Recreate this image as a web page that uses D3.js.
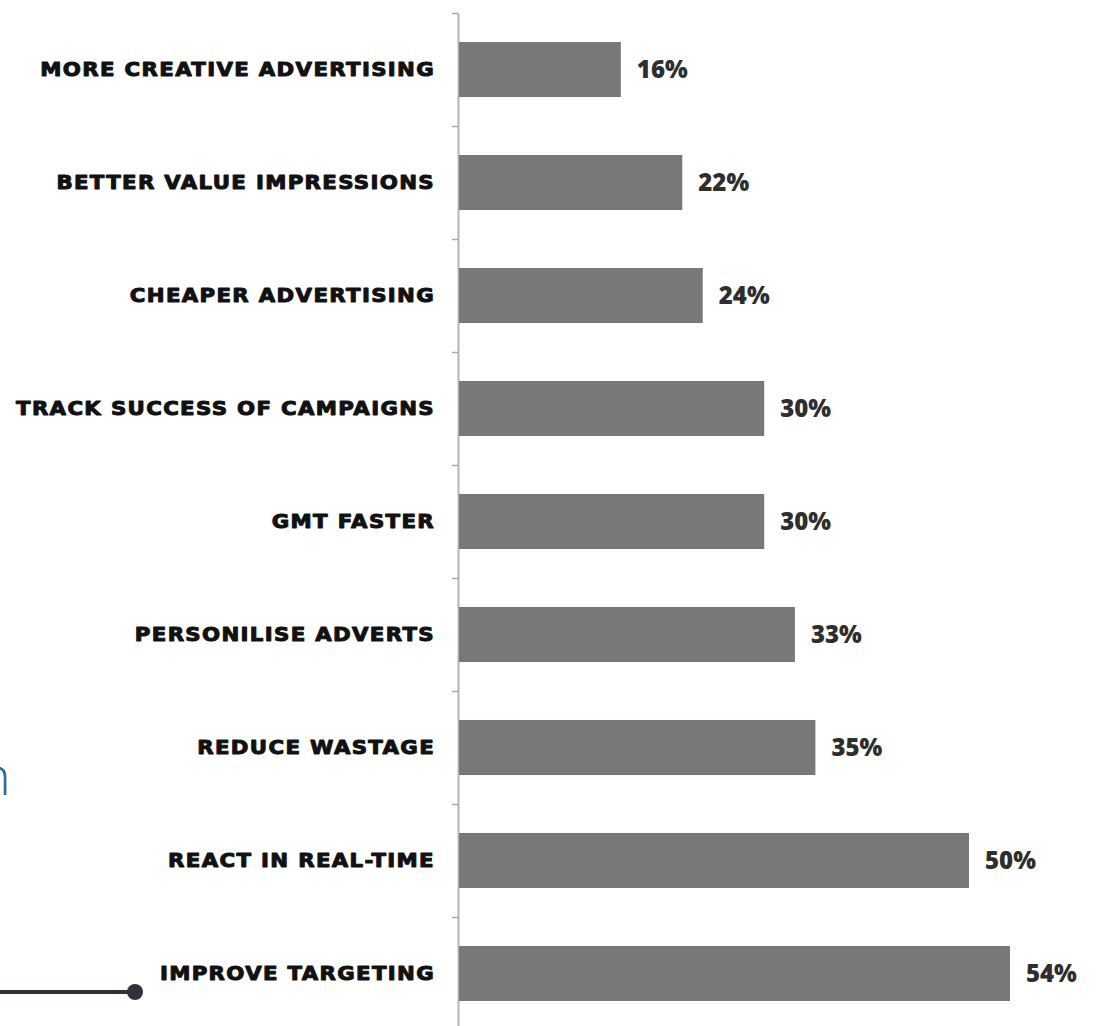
<!DOCTYPE html>
<html>
<head>
<meta charset="utf-8">
<script src="https://cdn.jsdelivr.net/npm/d3@7"></script>
<style>
  html, body { margin: 0; padding: 0; background: #ffffff; }
  svg { display: block; }
</style>
</head>
<body>
<script>
const categories = [
  "MORE CREATIVE ADVERTISING",
  "BETTER VALUE IMPRESSIONS",
  "CHEAPER ADVERTISING",
  "TRACK SUCCESS OF CAMPAIGNS",
  "GMT FASTER",
  "PERSONILISE ADVERTS",
  "REDUCE WASTAGE",
  "REACT IN REAL-TIME",
  "IMPROVE TARGETING"
];
const values = [16, 22, 24, 30, 30, 33, 35, 50, 54];
const valueLabels = ["16%", "22%", "24%", "30%", "30%", "33%", "35%", "50%", "54%"];

const W = 1097, H = 1026;
const svg = d3.select("body").append("svg").attr("width", W).attr("height", H);
svg.append("rect").attr("width", W).attr("height", H).attr("fill", "#ffffff");

const axisX = 458;
const y = d3.scaleBand().domain(categories).range([13, 1030])
  .paddingInner(0.513).paddingOuter(0.2566);
const x = d3.scaleLinear().domain([0, 60]).range([457, 457 + 614.4]);

// boundary ticks axis
const yIdx = d3.scaleLinear().domain([0, categories.length]).range([13, 1030]);
const axisG = svg.append("g").attr("transform", `translate(${axisX},0)`)
  .call(d3.axisLeft(yIdx).tickValues(d3.range(0, categories.length + 1))
    .tickSize(6).tickSizeOuter(0).tickFormat(""));
axisG.select(".domain").attr("stroke", "#b5b5b5").attr("stroke-width", 2);
axisG.selectAll(".tick line").attr("stroke", "#a8a8a8").attr("stroke-width", 1.5);

// bars
svg.append("g").selectAll("rect").data(categories).join("rect")
  .attr("x", x(0) + 2)
  .attr("y", d => y(d))
  .attr("width", (d, i) => x(values[i]) - x(0) - 2)
  .attr("height", y.bandwidth())
  .attr("fill", "#767977");

// category labels (heavy, wide display style)
svg.append("g").selectAll("text").data(categories).join("text")
  .attr("transform", d => `translate(435,${y(d) + y.bandwidth() / 2}) scale(1.12,1)`)
  .attr("x", 0)
  .attr("y", 0)
  .attr("dy", "0.36em")
  .attr("text-anchor", "end")
  .attr("font-family", "DejaVu Sans")
  .attr("font-weight", 900)
  .attr("font-size", 19)
  .attr("letter-spacing", 1.2)
  .attr("fill", "#111111")
  .attr("stroke", "#111111")
  .attr("stroke-width", 1)
  .attr("stroke-linejoin", "round")
  .text(d => d);

// value labels
svg.append("g").selectAll("text").data(categories).join("text")
  .attr("x", (d, i) => x(values[i]) + 16)
  .attr("y", d => y(d) + y.bandwidth() / 2)
  .attr("dy", "0.36em")
  .attr("font-family", "'Open Sans'")
  .attr("font-weight", 800)
  .attr("font-size", 24)
  .attr("fill", "#2e2e2e")
  .text((d, i) => valueLabels[i]);

// stray decorations from source page
svg.append("text")
  .attr("x", 11).attr("y", 795)
  .attr("text-anchor", "end")
  .attr("font-family", "'Open Sans'")
  .attr("font-weight", 300)
  .attr("font-size", 54)
  .attr("fill", "#2a6aa3")
  .text("n");

svg.append("line")
  .attr("x1", 0).attr("x2", 132).attr("y1", 992).attr("y2", 992)
  .attr("stroke", "#2d3338").attr("stroke-width", 4);
svg.append("circle")
  .attr("cx", 135).attr("cy", 992).attr("r", 8)
  .attr("fill", "#2d3338");
</script>
</body>
</html>
